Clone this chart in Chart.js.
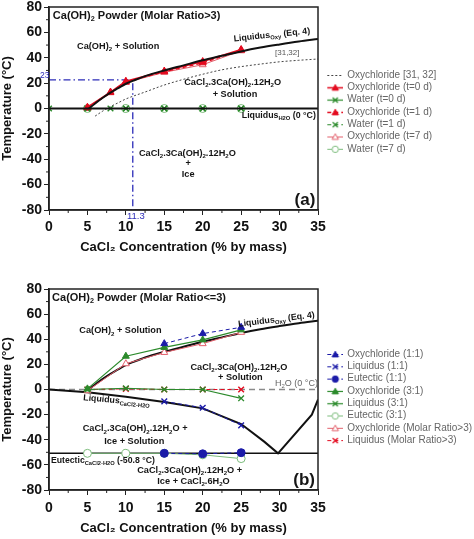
<!DOCTYPE html>
<html><head><meta charset="utf-8">
<script src="https://cdn.jsdelivr.net/npm/chart.js@4.4.1/dist/chart.umd.min.js"></script>
<style>
html,body{margin:0;padding:0;background:#fff;overflow:hidden}
canvas{display:block}
</style></head><body>
<canvas id="ca" width="474" height="270"></canvas>
<canvas id="cb" width="474" height="269"></canvas>
<script>
// ================= DATA =================
const xTicks = [0, 5, 10, 15, 20, 25, 30, 35];
const yTicks = [-80, -60, -40, -20, 0, 20, 40, 60, 80];
const xMinorTicks = [2.5, 7.5, 12.5, 17.5, 22.5, 27.5, 32.5];
const yMinorTicks = [-70, -50, -30, -10, 10, 30, 50, 70];

// Liquidus Oxy (Eq. 4) – both panels
const liqOxyConc = [5.2, 6, 7, 8, 9, 10, 11, 12.5, 15, 17.5, 20, 22.5, 25, 27.5, 30, 32.5, 35];
const liqOxyTemp = [0, 4, 8.5, 12.5, 16, 19.5, 22, 25.5, 30, 34, 38, 41.5, 45, 48, 50.5, 52.8, 54.8];
// 0 °C line
const zeroConc = [0, 35];
const zeroTemp = [0, 0];

// ---- Panel (a) ----
const litConc = [6, 7, 8, 9, 10, 12.5, 15, 17.5, 20, 22.5, 25, 27.5, 30, 32.5, 35];
const litTemp = [-6, -2, 1.5, 4.5, 7.5, 13, 18.5, 23, 27, 30.5, 33, 35, 36.8, 38, 39];
const oxyT0Conc = [5, 8, 10, 15, 20, 25];
const oxyT0Temp = [1, 13, 21.5, 29.5, 37, 46.5];
const oxyT1Conc = [5, 8, 10, 15, 20, 25];
const oxyT1Temp = [0.5, 12.5, 21, 29, 36, 46];
const oxyT7Conc = [5, 10, 15, 20, 25];
const oxyT7Temp = [0, 20.5, 28.5, 34.5, 45.5];
const waterT0Conc = [0, 5, 10, 15, 20, 25];
const waterT0Temp = [0, 0, 0, 0, 0, 0];
const waterT1Conc = [5, 8, 10, 15, 20, 25];
const waterT1Temp = [0, 0, 0, 0, 0, 0];
const waterT7Conc = [5, 10, 15, 20, 25];
const waterT7Temp = [0, 0, 0, 0, 0];
const guideConc = [0, 10.9, 10.9];
const guideTemp = [22.5, 22.5, -80];

// ---- Panel (b) ----
const iceLiqConc = [0, 5, 10, 15, 20, 25, 28, 29.8, 34.2, 35];
const iceLiqTemp = [0, -2.2, -5.7, -10, -15, -27.5, -41.5, -50.8, -20, -8];
const eutConc = [0, 35];
const eutTemp = [-50.8, -50.8];
const oxy11Conc = [15, 20, 25];
const oxy11Temp = [36.5, 44.5, 49.5];
const liq11Conc = [15, 20, 25];
const liq11Temp = [-9.5, -14.5, -28.5];
const eut11Conc = [15, 20, 25];
const eut11Temp = [-50.8, -51.2, -50.3];
const oxy31Conc = [5, 10, 15, 20, 25];
const oxy31Temp = [0.5, 26.5, 33.5, 39.5, 47.5];
const liq31Conc = [5, 10, 15, 20, 25];
const liq31Temp = [0, 1, 0, 0, -7];
const eut31Conc = [5, 10, 15, 20, 25];
const eut31Temp = [-50.8, -50.8, -50.8, -52, -55];
const oxyMRConc = [5, 10, 15, 20, 25];
const oxyMRTemp = [-1, 20.5, 29.5, 36.5, 45.5];
const liqMRConc = [5, 10, 15, 20, 25];
const liqMRTemp = [0, 0.5, 0, 0, 0];

// ================= STYLE / HELPERS =================
const FONT = '"Liberation Sans", Arial, Helvetica, sans-serif';
const RED = '#e30b1f', RED_L = '#e2606c', GRN = '#2b8a2b', GRN_L = '#7cbc7c', BLU = '#1b1ba8', BLU_D = '#2c2cb8';

function pts(xs, ys) { return xs.map((x, i) => ({x: x, y: ys[i]})); }

function drawMarker(g, m, x, y, r, fill, color) {
  g.strokeStyle = color; g.fillStyle = fill ? color : '#fff'; g.lineWidth = 1;
  g.beginPath();
  if (m === 'triangle') { g.moveTo(x, y - r); g.lineTo(x + r, y + r * 0.75); g.lineTo(x - r, y + r * 0.75); g.closePath(); g.fill(); g.stroke(); }
  else if (m === 'crossRot') { const d = r * 0.8; g.moveTo(x - d, y - d); g.lineTo(x + d, y + d); g.moveTo(x + d, y - d); g.lineTo(x - d, y + d); g.lineWidth = 1.3; g.stroke(); }
  else if (m === 'circle') { g.arc(x, y, r, 0, Math.PI * 2); g.fill(); g.stroke(); }
}
function makeIcon(s) {
  const c = document.createElement('canvas'); c.width = 24; c.height = 10;
  const g = c.getContext('2d');
  g.strokeStyle = s.color; g.lineWidth = s.lw; g.setLineDash(s.dash || []);
  g.beginPath(); g.moveTo(8, 5.5); g.lineTo(24, 5.5); g.stroke(); g.setLineDash([]);
  if (s.marker) drawMarker(g, s.marker, 16, 5.5, 3.2, s.filled, s.color);
  return c;
}
function series(label, xs, ys, s) {
  return {
    label: label, data: pts(xs, ys), order: s.order || 0,
    borderColor: s.color, borderWidth: s.lw, borderDash: s.dash || [],
    pointStyle: s.marker || 'circle', pointRadius: s.marker ? (s.r || 4) : 0,
    pointBackgroundColor: s.filled ? s.color : '#ffffff', pointBorderColor: s.color,
    pointBorderWidth: s.marker === 'crossRot' ? 1.4 : 1,
    tension: 0, cubicInterpolationMode: s.smooth ? 'monotone' : 'default', fill: false
  };
}

function parseRich(s) {
  const parts = []; const re = /_\{([^}]*)\}/g; let last = 0, m;
  while ((m = re.exec(s))) { if (m.index > last) parts.push([s.slice(last, m.index), false]); parts.push([m[1], true]); last = re.lastIndex; }
  if (last < s.length) parts.push([s.slice(last), false]);
  return parts;
}
function drawRich(ctx, text, px, py, o) {
  const parts = parseRich(text);
  const wt = o.bold ? 'bold ' : '';
  const fb = wt + o.size + 'px ' + FONT, fs = wt + (o.size * 0.66).toFixed(2) + 'px ' + FONT;
  ctx.save();
  let w = 0;
  for (const [t, sub] of parts) { ctx.font = sub ? fs : fb; w += ctx.measureText(t).width; }
  ctx.translate(px, py);
  if (o.rot) ctx.rotate(o.rot * Math.PI / 180);
  let cx = o.align === 'left' ? 0 : (o.align === 'right' ? -w : -w / 2);
  ctx.textAlign = 'left'; ctx.textBaseline = 'middle'; ctx.fillStyle = o.color || '#151515';
  for (const [t, sub] of parts) { ctx.font = sub ? fs : fb; ctx.fillText(t, cx, sub ? o.size * 0.32 : 0); cx += ctx.measureText(t).width; }
  ctx.restore();
}

const framePlugin = {
  id: 'frame',
  afterDatasetsDraw(chart) {
    const {ctx, chartArea: a, scales: {x, y}} = chart;
    ctx.save();
    ctx.strokeStyle = '#222'; ctx.lineWidth = 1.5;
    ctx.strokeRect(a.left, a.top, a.right - a.left, a.bottom - a.top);
    ctx.lineWidth = 1; ctx.beginPath();
    xMinorTicks.forEach(v => { const p = x.getPixelForValue(v); ctx.moveTo(p, a.bottom); ctx.lineTo(p, a.bottom + 3); });
    yMinorTicks.forEach(v => { const p = y.getPixelForValue(v); ctx.moveTo(a.left - 3, p); ctx.lineTo(a.left, p); });
    ctx.stroke();
    ctx.restore();
  }
};
function legendWidthPlugin(w) {
  return {
    id: 'legendWidth',
    beforeLayout(chart) {
      const lg = chart.legend;
      if (lg && !lg.__patched) {
        const orig = lg.fit.bind(lg);
        lg.fit = function () { orig(); this.width = w; };
        lg.__patched = true;
      }
    }
  };
}
function annotPlugin(list) {
  return {
    id: 'annot',
    afterDraw(chart) {
      const {ctx, scales: {x, y}} = chart;
      list.forEach(a => drawRich(ctx, a.t, x.getPixelForValue(a.x), y.getPixelForValue(a.y), a));
    }
  };
}

function makeChart(id, datasets, legendSpec, annots, L) {
  const labelSet = legendSpec.map(l => l.label);
  const icons = {};
  legendSpec.forEach(l => { icons[l.label] = makeIcon(l.style); });
  return new Chart(document.getElementById(id), {
    type: 'line',
    data: {datasets: datasets},
    options: {
      responsive: false, animation: false, devicePixelRatio: 1, events: [],
      layout: {padding: {top: L.top, bottom: L.bottom, left: 0, right: 0}},
      scales: {
        x: {
          type: 'linear', min: 0, max: 35,
          afterBuildTicks: s => { s.ticks = xTicks.map(v => ({value: v})); },
          afterFit: s => { s.height = 48; s.paddingLeft = 0; s.paddingRight = 0; },
          ticks: {font: {family: FONT, size: 14, weight: 'bold'}, color: '#111', padding: L.tickPad, maxRotation: 0, autoSkip: false},
          grid: {drawOnChartArea: false, drawTicks: true, tickLength: 5, tickColor: '#222', tickWidth: 1},
          border: {color: '#222', width: 1.5},
          title: {display: true, text: 'CaCl₂ Concentration (% by mass)', font: {family: FONT, size: 13, weight: 'bold'}, color: '#111', padding: {top: 0, bottom: L.titlePad}}
        },
        y: {
          type: 'linear', min: -80, max: 80,
          afterBuildTicks: s => { s.ticks = yTicks.map(v => ({value: v})); },
          afterFit: s => { s.width = 49; s.paddingTop = 0; s.paddingBottom = 0; },
          ticks: {font: {family: FONT, size: 14, weight: 'bold'}, color: '#111', padding: 2},
          grid: {drawOnChartArea: false, drawTicks: true, tickLength: 5, tickColor: '#222', tickWidth: 1},
          border: {color: '#222', width: 1.5},
          title: {display: true, text: 'Temperature (°C)', font: {family: FONT, size: 13, weight: 'bold'}, color: '#111', padding: {top: 0, bottom: 0}}
        }
      },
      plugins: {
        tooltip: {enabled: false},
        legend: {
          position: 'right', align: 'start', fullSize: false,
          title: {display: true, text: ' ', padding: 0, font: {family: FONT, size: 10, lineHeight: L.legendOffset + 'px'}},
          labels: {
            usePointStyle: true, pointStyleWidth: 22, boxHeight: 10, padding: 2.3,
            color: '#222', font: {family: FONT, size: 10},
            generateLabels: chart => chart.data.datasets
              .map((ds, i) => ({ds: ds, i: i}))
              .filter(o => labelSet.includes(o.ds.label))
              .sort((a, b) => labelSet.indexOf(a.ds.label) - labelSet.indexOf(b.ds.label))
              .map(o => ({text: o.ds.label, datasetIndex: o.i, pointStyle: icons[o.ds.label], rotation: 0,
                          fillStyle: 'rgba(0,0,0,0)', strokeStyle: 'rgba(0,0,0,0)', lineWidth: 0, hidden: false}))
          }
        }
      }
    },
    plugins: [framePlugin, legendWidthPlugin(156), annotPlugin(annots)]
  });
}

// ================= PANEL (a) =================
const sA = {
  lit:  {color: '#444', lw: 1, dash: [2, 2]},
  oxy0: {color: RED, lw: 1.5, marker: 'triangle', filled: true},
  wat0: {color: GRN, lw: 1.2, marker: 'crossRot'},
  oxy1: {color: RED, lw: 1.5, dash: [4, 3], marker: 'triangle', filled: true},
  wat1: {color: GRN, lw: 1.2, dash: [4, 3], marker: 'crossRot'},
  oxy7: {color: RED_L, lw: 1, marker: 'triangle', filled: false},
  wat7: {color: GRN_L, lw: 1, marker: 'circle', filled: false},
  liq:  {color: '#111', lw: 2, smooth: true, order: -1},
  zero: {color: '#111', lw: 2, order: -1},
  guide:{color: BLU_D, lw: 1.3, dash: [7, 3, 1.5, 3]}
};
const dsA = [
  series('Oxychloride [31, 32]', litConc, litTemp, Object.assign({smooth: true}, sA.lit)),
  series('Oxychloride (t=0 d)', oxyT0Conc, oxyT0Temp, sA.oxy0),
  series('Water (t=0 d)', waterT0Conc, waterT0Temp, sA.wat0),
  series('Oxychloride (t=1 d)', oxyT1Conc, oxyT1Temp, sA.oxy1),
  series('Water (t=1 d)', waterT1Conc, waterT1Temp, sA.wat1),
  series('Oxychloride (t=7 d)', oxyT7Conc, oxyT7Temp, sA.oxy7),
  series('Water (t=7 d)', waterT7Conc, waterT7Temp, sA.wat7),
  series('Liquidus Oxy (Eq. 4)', liqOxyConc, liqOxyTemp, sA.liq),
  series('Liquidus H2O (0 °C)', zeroConc, zeroTemp, sA.zero),
  series('guide', guideConc, guideTemp, sA.guide)
];
const legA = [
  {label: 'Oxychloride [31, 32]', style: sA.lit},
  {label: 'Oxychloride (t=0 d)', style: sA.oxy0},
  {label: 'Water (t=0 d)', style: sA.wat0},
  {label: 'Oxychloride (t=1 d)', style: sA.oxy1},
  {label: 'Water (t=1 d)', style: sA.wat1},
  {label: 'Oxychloride (t=7 d)', style: sA.oxy7},
  {label: 'Water (t=7 d)', style: sA.wat7}
];
const annA = [
  {t: 'Ca(OH)_{2} Powder (Molar Ratio>3)', x: 0.5, y: 73.1, size: 11, bold: true, align: 'left'},
  {t: 'Ca(OH)_{2} + Solution', x: 9.0, y: 49.2, size: 9.2, bold: true},
  {t: 'Liquidus_{Oxy} (Eq. 4)', x: 29.0, y: 57.9, size: 8.8, bold: true, rot: -6},
  {t: '[31,32]', x: 31, y: 43.7, size: 8, color: '#555'},
  {t: 'CaCl_{2}.3Ca(OH)_{2}.12H_{2}O', x: 23.9, y: 20.9, size: 9.2, bold: true},
  {t: '+ Solution', x: 24.2, y: 11.4, size: 9.2, bold: true},
  {t: 'Liquidus_{H2O} (0 °C)', x: 29.9, y: -5.9, size: 8.8, bold: true},
  {t: 'CaCl_{2}.3Ca(OH)_{2}.12H_{2}O', x: 18.0, y: -35.1, size: 9.2, bold: true},
  {t: '+', x: 18.1, y: -43.7, size: 9.2, bold: true},
  {t: 'Ice', x: 18.1, y: -51.6, size: 9.2, bold: true},
  {t: '(a)', x: 33.3, y: -72.1, size: 17, bold: true},
  {t: '23', x: -0.55, y: 25.5, size: 8.5, color: BLU_D},
  {t: '11.3', x: 11.3, y: -84.7, size: 9.5, color: BLU_D}
];
makeChart('ca', dsA, legA, annA, {top: 7, bottom: 12, tickPad: 4.1, titlePad: 3.2, legendOffset: 60.7});

// ================= PANEL (b) =================
const sB = {
  oxy11: {color: BLU, lw: 1, dash: [4, 3], marker: 'triangle', filled: true},
  liq11: {color: BLU, lw: 1, dash: [4, 3], marker: 'crossRot'},
  eut11: {color: BLU, lw: 1, dash: [4, 3], marker: 'circle', filled: true},
  oxy31: {color: GRN, lw: 1.2, marker: 'triangle', filled: true},
  liq31: {color: GRN, lw: 1.2, marker: 'crossRot'},
  eut31: {color: GRN_L, lw: 1, marker: 'circle', filled: false},
  oxyMR: {color: RED_L, lw: 1, marker: 'triangle', filled: false},
  liqMR: {color: RED, lw: 1, dash: [4, 3], marker: 'crossRot'},
  liq:   {color: '#111', lw: 2, smooth: true},
  ice:   {color: '#111', lw: 2},
  eut:   {color: '#111', lw: 1.5},
  zero:  {color: '#8a8a8a', lw: 1.5, dash: [6, 4]}
};
const dsB = [
  series('Oxychloride (1:1)', oxy11Conc, oxy11Temp, sB.oxy11),
  series('Liquidus (1:1)', liq11Conc, liq11Temp, sB.liq11),
  series('Eutectic (1:1)', eut11Conc, eut11Temp, sB.eut11),
  series('Oxychloride (3:1)', oxy31Conc, oxy31Temp, sB.oxy31),
  series('Liquidus (3:1)', liq31Conc, liq31Temp, sB.liq31),
  series('Eutectic (3:1)', eut31Conc, eut31Temp, sB.eut31),
  series('Oxychloride (Molar Ratio>3)', oxyMRConc, oxyMRTemp, sB.oxyMR),
  series('Liquidus (Molar Ratio>3)', liqMRConc, liqMRTemp, sB.liqMR),
  series('Liquidus Oxy (Eq. 4)', liqOxyConc, liqOxyTemp, sB.liq),
  series('Liquidus CaCl2-H2O', iceLiqConc, iceLiqTemp, sB.ice),
  series('Eutectic CaCl2-H2O', eutConc, eutTemp, sB.eut),
  series('H2O (0 °C)', zeroConc, zeroTemp, sB.zero)
];
const legB = [
  {label: 'Oxychloride (1:1)', style: sB.oxy11},
  {label: 'Liquidus (1:1)', style: sB.liq11},
  {label: 'Eutectic (1:1)', style: sB.eut11},
  {label: 'Oxychloride (3:1)', style: sB.oxy31},
  {label: 'Liquidus (3:1)', style: sB.liq31},
  {label: 'Eutectic (3:1)', style: sB.eut31},
  {label: 'Oxychloride (Molar Ratio>3)', style: sB.oxyMR},
  {label: 'Liquidus (Molar Ratio>3)', style: sB.liqMR}
];
const annB = [
  {t: 'Ca(OH)_{2} Powder (Molar Ratio<=3)', x: 0.4, y: 72.9, size: 11, bold: true, align: 'left'},
  {t: 'Ca(OH)_{2} + Solution', x: 9.3, y: 46.6, size: 9.2, bold: true},
  {t: 'Liquidus_{Oxy} (Eq. 4)', x: 29.6, y: 55.6, size: 8.8, bold: true, rot: -7},
  {t: 'CaCl_{2}.3Ca(OH)_{2}.12H_{2}O', x: 24.7, y: 17.9, size: 9.2, bold: true},
  {t: '+ Solution', x: 24.9, y: 9.2, size: 9.2, bold: true},
  {t: 'H_{2}O (0 °C)', x: 32.2, y: 4.4, size: 9, color: '#666'},
  {t: 'Liquidus_{CaCl2-H2O}', x: 8.8, y: -8.9, size: 8.8, bold: true, rot: 5},
  {t: 'CaCl_{2}.3Ca(OH)_{2}.12H_{2}O +', x: 11.2, y: -31.4, size: 9.2, bold: true},
  {t: 'Ice + Solution', x: 11.1, y: -41.6, size: 9.2, bold: true},
  {t: 'Eutectic_{CaCl2-H2O} (-50.8 °C)', x: 0.25, y: -56.9, size: 8.7, bold: true, align: 'left'},
  {t: 'CaCl_{2}.3Ca(OH)_{2}.12H_{2}O +', x: 18.3, y: -64.6, size: 9.2, bold: true},
  {t: 'Ice + CaCl_{2}.6H_{2}O', x: 18.8, y: -73.4, size: 9.2, bold: true},
  {t: '(b)', x: 33.2, y: -72.1, size: 17, bold: true}
];
makeChart('cb', dsB, legB, annB, {top: 19, bottom: 1, tickPad: 4.6, titlePad: 2.2, legendOffset: 57.7});
</script>
</body></html>
